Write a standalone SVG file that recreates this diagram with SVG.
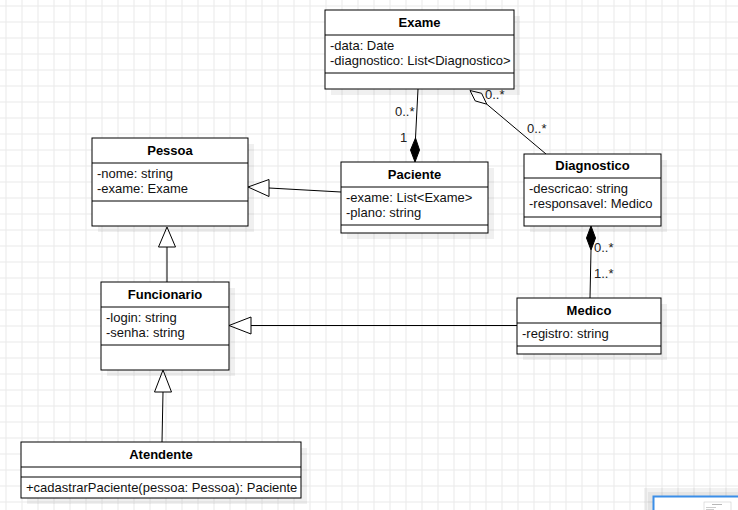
<svg xmlns="http://www.w3.org/2000/svg" width="738" height="510" viewBox="0 0 738 510">
<defs>
<pattern id="grid" x="5.5" y="5.5" width="16" height="16" patternUnits="userSpaceOnUse">
<path d="M0 0.5H16M0.5 0V16" fill="none" stroke="#e9e9e9" stroke-width="1"/>
</pattern>
<style>
.box{fill:#fff;stroke:#000;stroke-width:1}
.sh{fill:#000;opacity:0.06}
.sep{stroke:#000;stroke-width:1}
.t{font-family:"Liberation Sans",Arial,sans-serif;font-size:13px;font-weight:bold;fill:#000;text-anchor:middle}
.a{font-family:"Liberation Sans",Arial,sans-serif;font-size:13px;fill:#111}
.m{font-family:"Liberation Sans",Arial,sans-serif;font-size:13px;fill:#222}
.ln{fill:none;stroke:#000;stroke-width:1}
.hol{fill:#fff;stroke:#000;stroke-width:1}
.fil{fill:#000;stroke:#000;stroke-width:1}
</style>
</defs>
<rect width="738" height="510" fill="#fff"/>
<rect width="738" height="510" fill="url(#grid)"/>

<g id="connectors">
<!-- Exame - Paciente composition -->
<line class="ln" x1="418" y1="89" x2="415.5" y2="138"/>
<polygon class="fil" points="415,162 419.5,150 415.5,138 410.5,150"/>
<text class="m" x="395" y="116">0..*</text>
<text class="m" x="400" y="142">1</text>
<!-- Exame - Diagnostico aggregation -->
<line class="ln" x1="486.8" y1="104.2" x2="546" y2="154"/>
<polygon class="hol" points="470,90.5 481.6,93.3 486.8,104.2 475.2,100.9"/>
<text class="m" x="485" y="99">0..*</text>
<text class="m" x="527" y="133">0..*</text>
<!-- Paciente -> Pessoa -->
<line class="ln" x1="341" y1="192" x2="269" y2="188"/>
<polygon class="hol" points="248,187 269,179.5 269,196.5"/>
<!-- Funcionario -> Pessoa -->
<line class="ln" x1="167" y1="282" x2="167" y2="247"/>
<polygon class="hol" points="167,227 158.5,247 175.5,247"/>
<!-- Atendente -> Funcionario -->
<line class="ln" x1="162" y1="442" x2="163" y2="392"/>
<polygon class="hol" points="163,370 154.5,392 171.5,392"/>
<!-- Medico -> Funcionario -->
<line class="ln" x1="517" y1="325.5" x2="251" y2="325.5"/>
<polygon class="hol" points="229,325.5 251,317 251,334"/>
<!-- Diagnostico - Medico composition -->
<line class="ln" x1="591" y1="250" x2="590" y2="298"/>
<polygon class="fil" points="591,226 595.5,238 591,250 586.5,238"/>
<text class="m" x="594" y="252">0..*</text>
<text class="m" x="594" y="278">1..*</text>
</g>

<g id="Exame">
<rect class="sh" x="331" y="16" width="189" height="79"/>
<rect class="box" x="325" y="10" width="189" height="79"/>
<line class="sep" x1="325" y1="35" x2="514" y2="35"/>
<line class="sep" x1="325" y1="73" x2="514" y2="73"/>
<text class="t" x="419.5" y="27">Exame</text>
<text class="a" x="330" y="50">-data: Date</text>
<text class="a" x="330" y="65">-diagnostico: List&lt;Diagnostico&gt;</text>
</g>

<g id="Pessoa">
<rect class="sh" x="98" y="144" width="156" height="88"/>
<rect class="box" x="92" y="138" width="156" height="88"/>
<line class="sep" x1="92" y1="163" x2="248" y2="163"/>
<line class="sep" x1="92" y1="201" x2="248" y2="201"/>
<text class="t" x="170" y="155">Pessoa</text>
<text class="a" x="97" y="178">-nome: string</text>
<text class="a" x="97" y="193">-exame: Exame</text>
</g>

<g id="Paciente">
<rect class="sh" x="347" y="168" width="147" height="71"/>
<rect class="box" x="341" y="162" width="147" height="71"/>
<line class="sep" x1="341" y1="187" x2="488" y2="187"/>
<line class="sep" x1="341" y1="225" x2="488" y2="225"/>
<text class="t" x="414.5" y="179">Paciente</text>
<text class="a" x="346" y="202">-exame: List&lt;Exame&gt;</text>
<text class="a" x="346" y="217">-plano: string</text>
</g>

<g id="Diagnostico">
<rect class="sh" x="530" y="160" width="137" height="72"/>
<rect class="box" x="524" y="154" width="137" height="72"/>
<line class="sep" x1="524" y1="178" x2="661" y2="178"/>
<line class="sep" x1="524" y1="217" x2="661" y2="217"/>
<text class="t" x="592.5" y="170">Diagnostico</text>
<text class="a" x="529" y="193">-descricao: string</text>
<text class="a" x="529" y="208">-responsavel: Medico</text>
</g>

<g id="Medico">
<rect class="sh" x="523" y="304" width="144" height="56"/>
<rect class="box" x="517" y="298" width="144" height="56"/>
<line class="sep" x1="517" y1="323" x2="661" y2="323"/>
<line class="sep" x1="517" y1="346" x2="661" y2="346"/>
<text class="t" x="589" y="315">Medico</text>
<text class="a" x="522" y="338">-registro: string</text>
</g>

<g id="Funcionario">
<rect class="sh" x="107" y="288" width="128" height="88"/>
<rect class="box" x="101" y="282" width="128" height="88"/>
<line class="sep" x1="101" y1="307" x2="229" y2="307"/>
<line class="sep" x1="101" y1="345" x2="229" y2="345"/>
<text class="t" x="165" y="299">Funcionario</text>
<text class="a" x="106" y="322">-login: string</text>
<text class="a" x="106" y="337">-senha: string</text>
</g>

<g id="Atendente">
<rect class="sh" x="27" y="448" width="280" height="56"/>
<rect class="box" x="21" y="442" width="280" height="56"/>
<line class="sep" x1="21" y1="467" x2="301" y2="467"/>
<line class="sep" x1="21" y1="477" x2="301" y2="477"/>
<text class="t" x="161" y="459">Atendente</text>
<text class="a" x="26" y="492">+cadastrarPaciente(pessoa: Pessoa): Paciente</text>
</g>

<g id="outline">
<rect x="644" y="488" width="100" height="30" fill="#000" opacity="0.05"/>
<rect x="648" y="492" width="96" height="26" fill="#000" opacity="0.05"/>
<rect x="653.5" y="496.5" width="90" height="20" fill="#fff" stroke="#3b8ee8" stroke-width="2"/>
<rect x="704" y="502" width="27" height="10" fill="#fff" stroke="#ccc" stroke-width="0.6"/>
<line x1="712" y1="504.5" x2="722" y2="504.5" stroke="#888" stroke-width="0.6"/>
<line x1="706" y1="507.5" x2="716" y2="507.5" stroke="#aaa" stroke-width="0.6"/>
<line x1="706" y1="509.5" x2="714" y2="509.5" stroke="#aaa" stroke-width="0.6"/>
</g>
</svg>
